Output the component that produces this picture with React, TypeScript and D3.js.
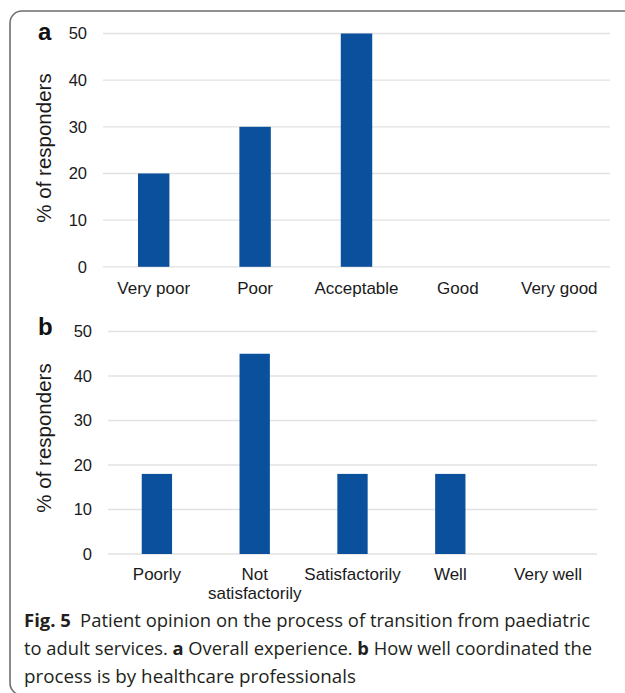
import React from "react";
import * as d3 from "d3";

const catsA = ["Very poor", "Poor", "Acceptable", "Good", "Very good"];
const valsA = [20, 30, 50, 0, 0];
const catsB = ["Poorly", "Not\nsatisfactorily", "Satisfactorily", "Well", "Very well"];
const valsB = [18, 45, 18, 18, 0];
const yTicks = [0, 10, 20, 30, 40, 50];
const yTitle = "% of responders";
const captionLines = [
  [{ b: true, t: "Fig. 5" }, { b: false, t: "\u2002Patient opinion on the process of transition from paediatric" }],
  [{ b: false, t: "to adult services. " }, { b: true, t: "a" }, { b: false, t: " Overall experience. " }, { b: true, t: "b" }, { b: false, t: " How well coordinated the" }],
  [{ b: false, t: "process is by healthcare professionals" }],
];

const BAR = "#0a509c";
const GRID = "#e2e2e2";
const FONT = "'Liberation Sans', Arial, sans-serif";

type PanelProps = {
  label: string;
  cats: string[];
  vals: number[];
  x0: number;
  x1: number;
  yTop: number;
  yBot: number;
  tickX: number;
  titleY: number;
  labelY: number;
  catY: number;
};

function Panel(p: PanelProps) {
  const x = d3.scaleBand<string>().domain(p.cats).range([p.x0, p.x1]).paddingInner(0.69).paddingOuter(0.345);
  const y = d3.scaleLinear().domain([0, 50]).range([p.yBot, p.yTop]);
  return (
    <g>
      {yTicks.map((t) => (
        <g key={t}>
          <line x1={p.x0} x2={p.x1} y1={y(t)} y2={y(t)} stroke={GRID} strokeWidth={1.3} />
          <text x={p.tickX} y={y(t)} dy="0.36em" textAnchor="end" fontSize={16.5} fontFamily={FONT} fill="#1a1a1a">
            {t}
          </text>
        </g>
      ))}
      {p.cats.map((c, i) => (
        <rect key={c} x={x(c)!} width={x.bandwidth()} y={y(p.vals[i])} height={y(0) - y(p.vals[i])} fill={BAR} />
      ))}
      {p.cats.map((c) => {
        const lines = c.split("\n");
        return (
          <text key={c} x={x(c)! + x.bandwidth() / 2} y={p.catY} textAnchor="middle" fontSize={17} fontFamily={FONT} fill="#1a1a1a">
            {lines.map((l, j) => (
              <tspan key={j} x={x(c)! + x.bandwidth() / 2} dy={j === 0 ? 0 : 19}>
                {l}
              </tspan>
            ))}
          </text>
        );
      })}
      <text
        transform={`translate(51,${p.titleY}) rotate(-90)`}
        textAnchor="middle"
        fontSize={20.5}
        fontFamily={FONT}
        fill="#1a1a1a"
      >
        {yTitle}
      </text>
      <text x={38} y={p.labelY} fontSize={24} fontWeight="bold" fontFamily={FONT} fill="#111">
        {p.label}
      </text>
    </g>
  );
}

export default function App() {
  const W = 625;
  const H = 693;
  const capX = 24;
  const capBase = [627, 655, 683];
  const capLen = [566, 568, 332];
  return (
    <svg width={W} height={H} style={{ position: "absolute", left: 0, top: 0, background: "#fff" }}>
      <rect x={10} y={11} width={700} height={684} rx={12} ry={12} fill="none" stroke="#6e6e6e" strokeWidth={1.6} />
      <Panel label="a" cats={catsA} vals={valsA} x0={103} x1={610} yTop={33.5} yBot={266.8} tickX={87} titleY={148} labelY={40} catY={294} />
      <Panel label="b" cats={catsB} vals={valsB} x0={108} x1={597} yTop={331.5} yBot={554} tickX={92} titleY={438} labelY={335} catY={580} />
      {captionLines.map((line, i) => (
        <text
          key={i}
          x={capX}
          y={capBase[i]}
          fontSize={18}
          fontFamily="'Open Sans', 'Noto Sans', sans-serif"
          fill="#231f20"
          textLength={capLen[i]}
          lengthAdjust="spacingAndGlyphs"
        >
          {line.map((s, j) => (
            <tspan key={j} fontWeight={s.b ? "bold" : "normal"}>
              {s.t}
            </tspan>
          ))}
        </text>
      ))}
    </svg>
  );
}
